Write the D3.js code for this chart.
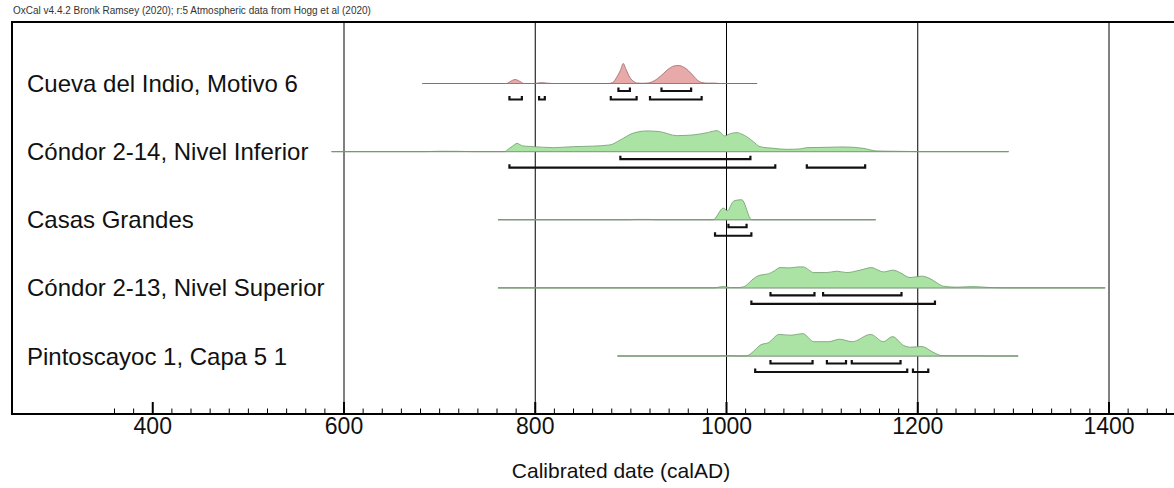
<!DOCTYPE html>
<html>
<head>
<meta charset="utf-8">
<script src="https://cdn.jsdelivr.net/npm/d3@7"></script>
<style>
  body { margin: 0; background: #fff; }
  svg { display: block; font-family: "Liberation Sans", Arial, sans-serif; }
</style>
</head>
<body>
<script>
// samples
var sampleNames = ["Cueva del Indio, Motivo 6", "Cóndor 2-14, Nivel Inferior", "Casas Grandes",
                   "Cóndor 2-13, Nivel Superior", "Pintoscayoc 1, Capa 5 1"];

// [year calAD, relative probability]
var cuevaDensity = [[682,0],[770,0],[773,1.5],[779,4],[785,1.5],[788,0],[800,0],[803,0.6],[808,0.8],[813,0.3],[818,0],
  [876,0],[881,1],[885,6],[889,13],[892,20],[895,14],[899,6],[903,2],[906,0.5],[912,0.2],[918,0.5],[922,1.5],[928,5],
  [934,10],[940,15],[945,17.5],[950,18],[955,16.5],[960,13],[965,8],[970,3],[974,1],[980,0.4],[988,0.4],[992,0],[1032,0]];
var condor14Density = [[587,0],[685,0],[700,0.4],[720,0.3],[735,0],[768,0],[770,1],[773,3.3],[777,6],[781,8.3],[784,7],
  [787,5.7],[798,5],[819,4],[840,5],[860,5.5],[878,6.7],[889,11.7],[902,18.3],[917,20.7],[930,20],[948,16],[965,16.7],
  [980,19],[990,21],[994,19],[998,15.7],[1004,18],[1011,19],[1016,17.5],[1021,15],[1028,10],[1035,5],[1049,3.3],
  [1063,2.3],[1077,2.7],[1084,4],[1105,4.3],[1122,4.7],[1143,3.3],[1157,0.7],[1181,0.3],[1200,0],[1295,0]];
var casasDensity = [[761,0],[898,0],[905,0.3],[920,0.3],[925,0],[986,0],[996.7,11.7],[1000.9,9],[1007,18.3],[1010,19.5],
  [1016,20],[1026.3,0],[1156,0]];
var condor13Density = [[761,0],[988,0],[992,0.8],[997,1.3],[1004,0.3],[1012,0.3],[1017.6,1],[1021,2.7],[1026.3,7.7],
  [1035,12.7],[1043.7,14],[1050,17],[1056,20.3],[1066.4,20],[1075,21],[1080.3,21],[1086,18],[1090.8,15.3],[1104.8,15.3],
  [1115.2,16.7],[1125.7,15.3],[1139.6,17.7],[1151.8,20.3],[1158,18],[1164,16],[1174.4,17.7],[1181.4,15.3],[1191.9,10.3],
  [1204.1,11.7],[1212.8,9.3],[1220,5],[1226.7,1.7],[1240.7,0.7],[1258.1,1.3],[1275.6,0.3],[1290,0],[1396,0]];
var pintoDensity = [[886,0],[990,0],[997,0.4],[1005,0.4],[1012,0],[1020.7,0],[1028.4,4.8],[1036,11.3],[1043.6,13.2],
  [1055.1,21.6],[1066.5,20.8],[1079.9,22.3],[1091.4,14.3],[1106.7,14.3],[1118.2,16.8],[1131.5,14.3],[1150.7,21.6],
  [1164.1,14.3],[1173.6,19.4],[1185.1,10.6],[1192.7,8.8],[1204.2,9.5],[1215.6,4],[1225.3,0.4],[1240,0.3],[1260,0.3],
  [1275,0],[1305,0]];

// 68.2% and 95.4% hpd ranges
var range68 = [[[887,899],[932,963]], [[889,1025]], [[1002,1021]], [[1046,1092],[1101,1183]],
               [[1046,1090],[1105,1125],[1131,1182]]];
var range95 = [[[773,786],[804,810],[879,906],[920,974]], [[773,1051],[1084,1145]], [[988,1026]], [[1026,1218]],
               [[1030,1189],[1195,1211]]];

var pinkRows = ["Cueva del Indio, Motivo 6"];
var majorTicks = [400, 600, 800, 1000, 1200, 1400];
var gridYears = [600, 800, 1000, 1200, 1400];

var densities = [cuevaDensity, condor14Density, casasDensity, condor13Density, pintoDensity];

var width = 1174, height = 488;
var svg = d3.select("body").append("svg")
        .attr("width", width)
        .attr("height", height);

var x = d3.scaleLinear().domain([600, 1400]).range([344, 1109]);
var row = d3.scalePoint().domain(sampleNames).range([83.5, 356]);
var prob = d3.scaleLinear().domain([0, 22]).range([0, 22]);

var frameTop = 22, frameLeft = 12, axisY = 414;

// header
svg.append("text")
        .attr("x", 13).attr("y", 14)
        .attr("font-size", "10px")
        .attr("fill", "#333")
        .text("OxCal v4.4.2 Bronk Ramsey (2020); r:5 Atmospheric data from Hogg et al (2020)");

// grid lines
svg.selectAll("line.grid")
        .data(gridYears)
        .enter().append("line")
                .attr("class", "grid")
                .attr("x1", function(d){ return x(d); })
                .attr("x2", function(d){ return x(d); })
                .attr("y1", frameTop)
                .attr("y2", axisY)
                .attr("stroke", "#000")
                .attr("stroke-width", 1);

// one group per sample
var g = svg.selectAll("g.sample")
        .data(sampleNames)
        .enter().append("g")
                .attr("class", "sample")
                .attr("transform", function(d){ return "translate(0," + row(d) + ")"; });

g.append("text")
        .attr("x", 27)
        .attr("y", 8.5)
        .attr("font-size", "24px")
        .attr("fill", "#111")
        .text(function(d){ return d; });

// baseline over the full range of each distribution
g.append("line")
        .attr("x1", function(d,i){ return x(densities[i][0][0]); })
        .attr("x2", function(d,i){ return x(densities[i][densities[i].length-1][0]); })
        .attr("y1", 0).attr("y2", 0)
        .attr("stroke", "#999")
        .attr("stroke-width", 1);

var area = d3.area()
        .x(function(d){ return x(d[0]); })
        .y0(0)
        .y1(function(d){ return -prob(d[1]); })
        .curve(d3.curveMonotoneX);

g.append("path")
        .attr("d", function(d,i){ return area(densities[i]); })
        .attr("fill", function(d){ return pinkRows.indexOf(d) >= 0 ? "#e8a9a9" : "#abe3a4"; })
        .attr("stroke", function(d){ return pinkRows.indexOf(d) >= 0 ? "#9a6868" : "#6d9a6a"; })
        .attr("stroke-width", 0.8);

// brackets
function bracket(r, dy) {
  return "M" + x(r[0]) + "," + (dy - 3.5) + "V" + dy + "H" + x(r[1]) + "V" + (dy - 3.5);
}
g.each(function(d,i){
  var sel = d3.select(this);
  sel.selectAll("path.r68").data(range68[i]).enter().append("path")
          .attr("class", "r68")
          .attr("d", function(r){ return bracket(r, 7.5); });
  sel.selectAll("path.r95").data(range95[i]).enter().append("path")
          .attr("class", "r95")
          .attr("d", function(r){ return bracket(r, 16); });
});
g.selectAll("path.r68, path.r95")
        .attr("fill", "none")
        .attr("stroke", "#111")
        .attr("stroke-width", 2.2);

// frame
svg.append("path")
        .attr("d", "M" + width + "," + frameTop + "H" + frameLeft + "V" + axisY + "H" + width)
        .attr("fill", "none")
        .attr("stroke", "#000")
        .attr("stroke-width", 2);

// axis ticks
var minorTicks = d3.range(360, 1480, 20);
svg.selectAll("line.minor")
        .data(minorTicks)
        .enter().append("line")
                .attr("x1", function(d){ return x(d); })
                .attr("x2", function(d){ return x(d); })
                .attr("y1", axisY)
                .attr("y2", function(d){ return majorTicks.indexOf(d) >= 0 ? axisY - 12 : axisY - 5.5; })
                .attr("stroke", "#000")
                .attr("stroke-width", function(d){ return majorTicks.indexOf(d) >= 0 ? 2 : 1; });

svg.selectAll("text.tick")
        .data(majorTicks)
        .enter().append("text")
                .attr("x", function(d){ return x(d); })
                .attr("y", 434)
                .attr("text-anchor", "middle")
                .attr("font-size", "23px")
                .attr("fill", "#111")
                .text(function(d){ return d; });

svg.append("text")
        .attr("x", 621)
        .attr("y", 478)
        .attr("text-anchor", "middle")
        .attr("font-size", "21px")
        .attr("fill", "#111")
        .text("Calibrated date (calAD)");
</script>
</body>
</html>
